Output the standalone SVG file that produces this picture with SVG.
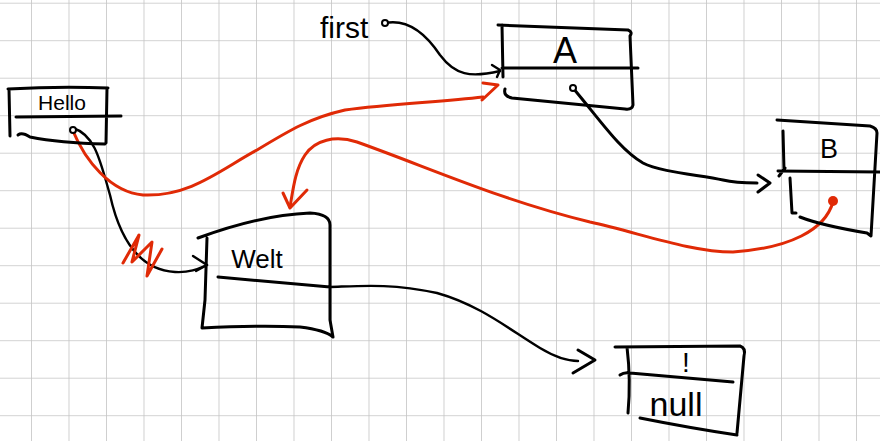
<svg xmlns="http://www.w3.org/2000/svg" width="880" height="441" viewBox="0 0 880 441">
<defs>
<pattern id="grid" patternUnits="userSpaceOnUse" x="31" y="2.7" width="37.5" height="37.5">
<path d="M0,0 H37.5 M0,0 V37.5" fill="none" stroke="#c4c4c4" stroke-width="1.6"/>
</pattern>
<style>
.ink{fill:none;stroke:#000;stroke-width:3;stroke-linecap:round;stroke-linejoin:round}
.thin{fill:none;stroke:#000;stroke-width:2.4;stroke-linecap:round;stroke-linejoin:round}
.red{fill:none;stroke:#e02a06;stroke-width:3;stroke-linecap:round;stroke-linejoin:round}
.txt{font-family:"Liberation Sans",Arial,sans-serif;fill:#000;font-weight:normal}
.dot{fill:#fff;stroke:#000;stroke-width:2}
</style>
</defs>
<rect width="880" height="441" fill="#fff"/>
<rect width="880" height="441" fill="url(#grid)"/>

<g id="connectors">
<path class="thin" d="M385,23 C400,20 420,25 440,55 C455,75 470,78 500,71"/>
<path class="thin" d="M492,65 L500,70 L497,77"/>
<path class="thin" d="M73,128 C95,135 100,160 110,195 C120,240 140,270 175,272 C190,273 200,268 207,265"/>
<path class="thin" d="M193,256 L207,265 L196,271"/>
<path class="thin" d="M330,287 C360,286 390,283 437,293 C480,305 510,330 540,348 C555,357 568,361 578,361"/>
<path class="ink" d="M578,350 L595,360 L573,373"/>
<path class="ink" d="M573,88 C600,120 620,150 643,163 C660,172 700,175 723,180 C735,183 745,183 757,183"/>
<path class="ink" d="M758,175 L770,183 L758,192"/>
<path class="red" d="M73,131 C85,160 110,192 143,195 C190,197 220,170 257,150 C290,130 310,118 345,110 C390,104 440,102 483,97"/>
<path class="red" d="M483,83 L498,85 L482,100"/>
<path class="red" d="M833,202 C825,230 790,248 733,252 C690,252 640,233 590,222 C500,200 430,168 357,142 C335,135 315,140 305,155 C295,170 293,190 290,207"/>
<path class="red" d="M283,193 L290,208 L307,190"/>
<path class="red" d="M123,263 L139,235 L132,262 L152,242 L147,276 L162,249"/>
<circle cx="833" cy="201" r="5" fill="#e02a06"/>
</g>

<g id="first">
<text class="txt" x="320" y="38" font-size="30">first</text>
<circle class="dot" cx="385" cy="23" r="3"/>
</g>

<g id="node-hello">
<path class="ink" d="M8,89 Q60,86 108,88 M9,89 L10,136 M107,88 L106,143 M16,117 L121,116 M18,135 Q22,132 30,137 Q60,143 105,144"/>
<text class="txt" x="62" y="110" font-size="21" text-anchor="middle">Hello</text>
<circle class="dot" cx="73" cy="130" r="3"/>
</g>

<g id="node-a">
<path class="ink" d="M498,25 L628,30 Q633,32 630,36 L633,105 Q632,110 625,109 L512,98 Q503,96 505,89 M502,25 L503,77 M502,68 L638,68"/>
<text class="txt" x="565" y="63" font-size="36" text-anchor="middle">A</text>
<circle class="dot" cx="573" cy="88" r="3"/>
</g>

<g id="node-b">
<path class="ink" d="M777,120 L870,126 Q877,128 877,133 L871,236 L867,233 Q820,225 800,217 M783,131 L784,170 M779,176 L785,168 M790,178 L792,213 L796,213 M778,171 L880,172"/>
<text class="txt" x="829" y="158" font-size="27" text-anchor="middle">B</text>
</g>

<g id="node-welt">
<path class="ink" d="M198,238 Q260,215 310,213 Q330,214 330,225 L330,320 L333,337 Q325,330 300,327 Q260,325 202,328 M207,238 L205,300 L202,328 M218,277 L330,287"/>
<text class="txt" x="257" y="268" font-size="26" text-anchor="middle">Welt</text>
</g>

<g id="node-null">
<path class="ink" d="M615,347 L740,346 Q746,348 744,356 L737,433 M627,347 Q631,380 628,413 M620,375 Q624,372 630,373 L733,382 M640,418 Q690,428 737,435"/>
<text class="txt" x="686" y="372" font-size="28" text-anchor="middle">!</text>
<text class="txt" x="676" y="416" font-size="34" text-anchor="middle">null</text>
</g>
</svg>
